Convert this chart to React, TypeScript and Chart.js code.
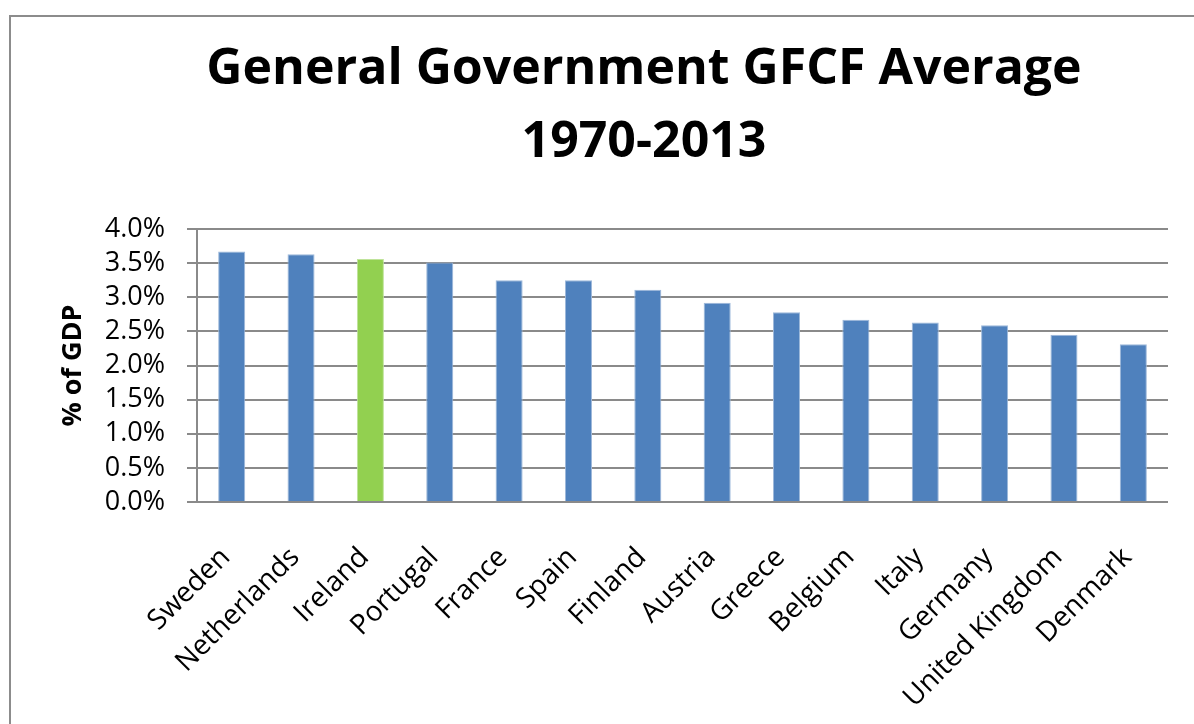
import React, { useEffect, useRef } from 'react';
import { Chart, registerables } from 'chart.js';

Chart.register(...registerables);

const titleLines = ['General Government GFCF Average', '1970-2013'];
const yAxisTitle = '% of GDP';
const countries = [
  'Sweden', 'Netherlands', 'Ireland', 'Portugal', 'France', 'Spain', 'Finland',
  'Austria', 'Greece', 'Belgium', 'Italy', 'Germany', 'United Kingdom', 'Denmark',
];
const gfcfShare = [3.67, 3.63, 3.56, 3.51, 3.25, 3.25, 3.11, 2.92, 2.78, 2.67, 2.63, 2.59, 2.45, 2.31];
const highlighted = 'Ireland';
const yMin = 0;
const yMax = 4;
const yStep = 0.5;

const BLUE = '#4F81BD';
const BLUE_EDGE = '#9DB8DA';
const GREEN = '#92D050';
const GREEN_EDGE = '#BFE39A';
const GRID = '#8A8A8A';
const FONT = '"Open Sans", "Noto Sans", sans-serif';

// The title is centred on the original (wider, cropped) frame: the full-size
// boxes span [BOX_LEFT, CANVAS_W] and an empty right-hand axis keeps the plot
// ending at PLOT_RIGHT.
const BOX_LEFT = 94;
const PLOT_LEFT = 197;
const PLOT_RIGHT = 1168;
const PLOT_BOTTOM = 502;
const CANVAS_W = 1194;
const CANVAS_H = 724;
const Y_TITLE_X = 73;

export default function App() {
  const canvasRef = useRef<HTMLCanvasElement | null>(null);

  useEffect(() => {
    const canvas = canvasRef.current;
    if (!canvas) return;
    const chart = new Chart(canvas, {
      type: 'bar',
      data: {
        labels: countries,
        datasets: [
          {
            data: gfcfShare,
            backgroundColor: countries.map((c) => (c === highlighted ? GREEN : BLUE)),
            borderColor: countries.map((c) => (c === highlighted ? GREEN_EDGE : BLUE_EDGE)),
            borderWidth: 1,
            barPercentage: 0.39,
            categoryPercentage: 1,
            yAxisID: 'y',
          },
        ],
      },
      options: {
        animation: false,
        responsive: false,
        devicePixelRatio: 1,
        layout: { padding: { left: BOX_LEFT, right: 0, top: 0, bottom: 0 } },
        plugins: {
          legend: { display: false },
          tooltip: { enabled: false },
          title: {
            display: true,
            text: titleLines,
            color: '#000',
            font: { family: FONT, size: 50, weight: 'bold', lineHeight: 1.46 },
            padding: { top: 33, bottom: 50 },
          },
        },
        scales: {
          x: {
            grid: { display: false },
            border: { display: false },
            ticks: {
              color: '#000',
              font: { family: FONT, size: 28 },
              minRotation: 45,
              maxRotation: 45,
              autoSkip: false,
              padding: 31,
              labelOffset: -6,
            },
            afterFit: (scale: any) => {
              scale.height = CANVAS_H - PLOT_BOTTOM;
            },
          },
          y: {
            position: 'left',
            min: yMin,
            max: yMax,
            grid: {
              color: GRID,
              lineWidth: 2,
              tickLength: 10,
              drawTicks: true,
            },
            border: { display: true, color: GRID, width: 2 },
            ticks: {
              stepSize: yStep,
              autoSkip: false,
              color: '#000',
              font: { family: FONT, size: 27 },
              padding: 22,
              callback: (v: any) => Number(v).toFixed(1) + '%',
            },
            title: {
              display: true,
              text: yAxisTitle,
              color: '#000',
              font: { family: FONT, size: 27, weight: 'bold' },
              padding: { top: Y_TITLE_X - BOX_LEFT - 16, bottom: 0 },
            },
            afterFit: (scale: any) => {
              scale.width = PLOT_LEFT - BOX_LEFT;
            },
          },
          yRightSpace: {
            type: 'linear',
            position: 'right',
            min: yMin,
            max: yMax,
            grid: { display: false, drawOnChartArea: false },
            border: { display: false },
            ticks: { display: false },
            afterFit: (scale: any) => {
              scale.width = CANVAS_W - PLOT_RIGHT;
            },
          },
        },
      },
    });
    return () => chart.destroy();
  }, []);

  return (
    <div>
      <div
        style={{
          position: 'fixed',
          left: 9,
          top: 15,
          right: 0,
          bottom: 0,
          borderTop: '2px solid #8C8C8C',
          borderLeft: '2px solid #8C8C8C',
          background: '#fff',
        }}
      />
      <canvas
        ref={canvasRef}
        width={CANVAS_W}
        height={CANVAS_H}
        style={{ position: 'fixed', left: 0, top: 0, width: CANVAS_W + 'px', height: CANVAS_H + 'px' }}
      />
    </div>
  );
}
